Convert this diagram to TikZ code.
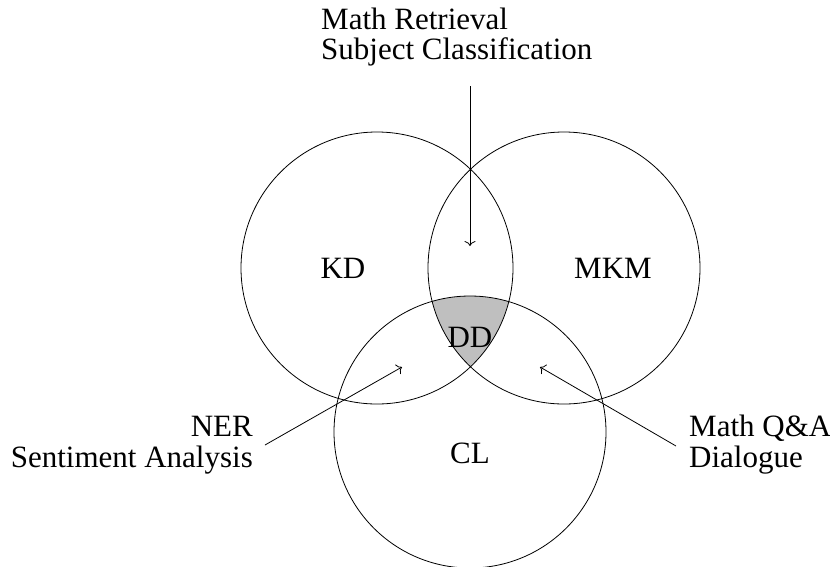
\documentclass[tikz,border=0pt]{standalone}
\usepackage{fontspec}
\setmainfont{Liberation Serif}
\usetikzlibrary{arrows.meta}
\begin{document}
\begin{tikzpicture}[x=1pt,y=-1pt,
  ring/.style={draw=black,line width=0.8pt},
  lbl/.style={inner sep=0pt,font=\fontsize{31}{31}\selectfont},
  pointer/.style={draw=black,line width=0.8pt,-{To[length=5pt,width=11pt]}}]
\useasboundingbox (0,0) rectangle (830,566);
% shaded triple intersection
\begin{scope}
  \clip (377,268) circle (136);
  \clip (564,268) circle (136);
  \fill[lightgray] (470,432) circle (136);
\end{scope}
\draw[ring] (377,268) circle (136);
\draw[ring] (564,268) circle (136);
\draw[ring] (470,432) circle (136);
% region labels
\node[lbl,anchor=base] (kd) at (343,278) {KD};
\node[lbl,anchor=base] (mkm) at (613,278) {MKM};
\node[lbl,anchor=base] (dd) at (470,347) {DD};
\node[lbl,anchor=base] (cl) at (470,463) {CL};
% top text
\node[lbl,anchor=base west] (t1) at (321,29) {Math Retrieval};
\node[lbl,anchor=base west] (t2) at (321,59.5) {Subject Classification};
% left text
\node[lbl,anchor=base east] (l1) at (253,436) {NER};
\node[lbl,anchor=base east] (l2) at (253,467) {Sentiment Analysis};
% right text
\node[lbl,anchor=base west] (r1) at (689,436) {Math Q\&A};
\node[lbl,anchor=base west] (r2) at (689,467) {Dialogue};
% arrows
\coordinate (ts) at (470,86);
\coordinate (te) at (470,246);
\coordinate (ls) at (265,445);
\coordinate (le) at (402,367);
\coordinate (rs) at (676,446);
\coordinate (re) at (540,367);
\draw[pointer] (ts) -- (te);
\draw[pointer] (ls) -- (le);
\draw[pointer] (rs) -- (re);
\end{tikzpicture}
\end{document}
